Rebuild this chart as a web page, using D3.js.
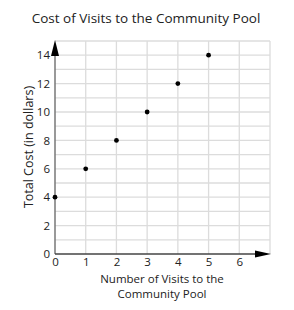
<!DOCTYPE html>
<html>
<head>
<meta charset="utf-8">
<script src="https://cdn.jsdelivr.net/npm/d3@7"></script>
<style>
  body { margin: 0; background: #fff; }
  text { font-family: "Open Sans", sans-serif; fill: #222; }
</style>
</head>
<body>
<svg id="chart" width="294" height="310"></svg>
<script>
const visits = [0, 1, 2, 3, 4, 5]
const cost = [4, 6, 8, 10, 12, 14]
const xTicks = [0, 1, 2, 3, 4, 5, 6]
const yTicks = [0, 2, 4, 6, 8, 10, 12, 14]

const svg = d3.select('#chart')
const x = d3.scaleLinear().domain([0, 7]).range([55, 270])
const y = d3.scaleLinear().domain([0, 15]).range([254, 41])

// grid
svg.append('g').selectAll('line').data(d3.range(1, 8))
    .join('line')
    .attr('x1', d => x(d)).attr('x2', d => x(d))
    .attr('y1', y(0)).attr('y2', y(15))
    .attr('stroke', '#dcdcdc').attr('stroke-width', 1.3)
svg.append('g').selectAll('line').data(d3.range(1, 16))
    .join('line')
    .attr('x1', x(0)).attr('x2', x(7))
    .attr('y1', d => y(d)).attr('y2', d => y(d))
    .attr('stroke', '#dcdcdc').attr('stroke-width', 1.3)

// y axis
const axisY = d3.axisLeft(y).tickValues(yTicks).tickSize(0).tickPadding(5).tickFormat(d3.format('d'))
svg.append('g')
    .attr('transform', `translate(${x(0)},0)`)
    .call(axisY)
    .call(g => g.select('.domain').remove())
    .selectAll('text')
    .style('font-size', '11.5px')
    .attr('font-family', '"Open Sans", sans-serif')

// x axis
const axisX = d3.axisBottom(x).tickValues(xTicks).tickSize(0).tickPadding(4).tickFormat(d3.format('d'))
svg.append('g')
    .attr('transform', `translate(0,${y(0)})`)
    .call(axisX)
    .call(g => g.select('.domain').remove())
    .selectAll('text')
    .style('font-size', '11.5px')
    .attr('font-family', '"Open Sans", sans-serif')

// axis lines with arrows
svg.append('line')
    .attr('x1', x(0)).attr('x2', x(0)).attr('y1', y(0)).attr('y2', 50)
    .attr('stroke', '#777').attr('stroke-width', 1.5)
svg.append('line')
    .attr('x1', x(0)).attr('x2', 258).attr('y1', y(0)).attr('y2', y(0))
    .attr('stroke', '#444').attr('stroke-width', 1.5)
svg.append('path')
    .attr('d', `M${x(0)},40 L${x(0) - 4},56 L${x(0) + 4},56 Z`)
    .attr('fill', '#000')
svg.append('path')
    .attr('d', `M271,${y(0)} L255,${y(0) - 3.5} L255,${y(0) + 3.5} Z`)
    .attr('fill', '#000')

// points
svg.append('g').selectAll('circle').data(visits)
    .join('circle')
    .attr('cx', d => x(d))
    .attr('cy', (d, i) => y(cost[i]))
    .attr('r', 2.4)
    .attr('fill', '#000')

// titles
svg.append('text')
    .attr('x', 146).attr('y', 23)
    .attr('text-anchor', 'middle')
    .style('font-size', '13.5px')
    .text('Cost of Visits to the Community Pool')
svg.append('text')
    .attr('text-anchor', 'middle')
    .attr('transform', 'translate(33,147) rotate(-90)')
    .style('font-size', '12.5px')
    .text('Total Cost (in dollars)')
svg.append('text')
    .attr('x', 162).attr('y', 283)
    .attr('text-anchor', 'middle')
    .style('font-size', '11.5px')
    .text('Number of Visits to the')
svg.append('text')
    .attr('x', 162).attr('y', 298)
    .attr('text-anchor', 'middle')
    .style('font-size', '11.5px')
    .text('Community Pool')
</script>
</body>
</html>
